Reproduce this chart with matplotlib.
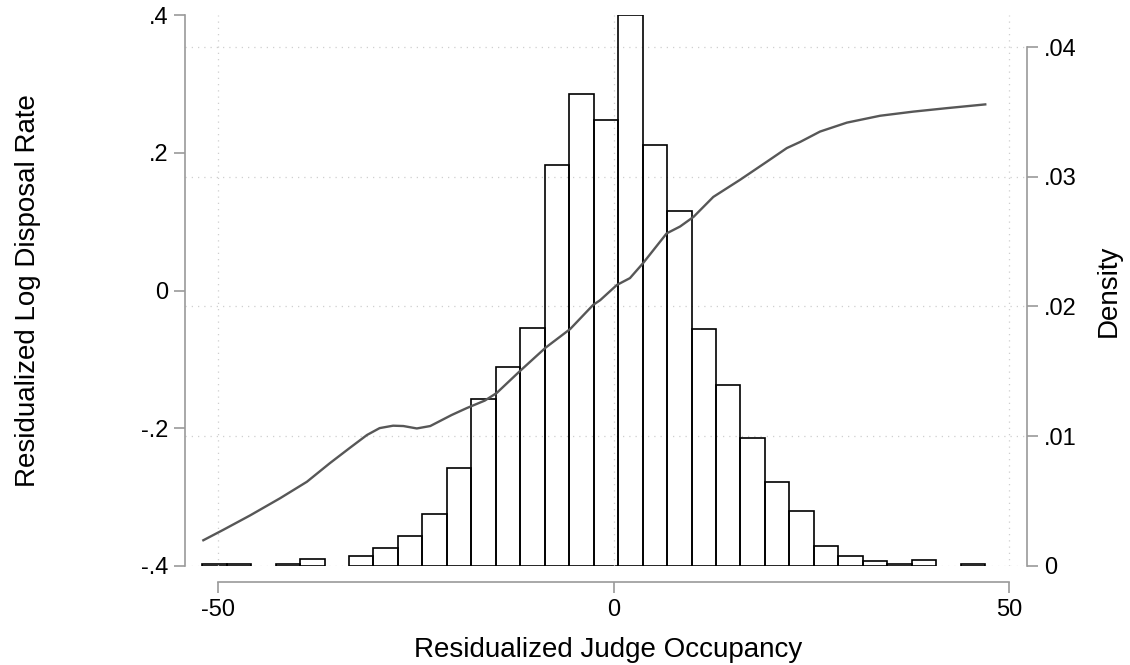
import matplotlib
matplotlib.use("Agg")
import matplotlib.pyplot as plt
import numpy as np

plt.rcParams['font.family'] = ['Liberation Sans', 'DejaVu Sans']
plt.rcParams['axes.unicode_minus'] = False

# histogram of residualized judge occupancy (density, right axis)
bin_start = -52.05
bin_width = 3.095
density = [0.00013, 0.00013, 0.0, 0.00013, 0.00052, 0.0, 0.00077, 0.00137,
           0.00226, 0.00396, 0.00754, 0.01284, 0.01529, 0.0183, 0.03094, 0.03639,
           0.03434, 0.04245, 0.03243, 0.02734, 0.01828, 0.01395, 0.00983, 0.00643,
           0.00419, 0.00152, 0.00077, 0.00039, 0.00013, 0.00041, 0.0, 0.00013]

# local polynomial fit (left axis)
fit_x = [-51.9, -49.4, -46.0, -42.2, -38.8, -35.9, -33.4, -31.2, -29.6, -27.9,
         -26.6, -24.9, -23.2, -20.5, -18.6, -16.3, -14.8, -11.85, -8.6, -5.5,
         -2.6, -1.7, 0.4, 2.06, 3.7, 6.7, 8.4, 10.1, 12.6, 16.0,
         19.35, 21.9, 23.6, 26.1, 29.5, 33.7, 37.9, 42.1, 47.0]
fit_y = [-0.363, -0.348, -0.327, -0.302, -0.278, -0.251, -0.229, -0.210, -0.200, -0.1965,
         -0.197, -0.2005, -0.197, -0.181, -0.171, -0.160, -0.149, -0.117, -0.083, -0.056,
         -0.021, -0.014, 0.008, 0.018, 0.0395, 0.083, 0.093, 0.107, 0.136, 0.161,
         0.187, 0.207, 0.216, 0.231, 0.244, 0.254, 0.260, 0.265, 0.2705]

left_ticks = [-0.4, -0.2, 0, 0.2, 0.4]
left_labels = ['-.4', '-.2', '0', '.2', '.4']
right_ticks = [0, 0.01, 0.02, 0.03, 0.04]
right_labels = ['0', '.01', '.02', '.03', '.04']
x_ticks = [-50, 0, 50]

axis_gray = '#9a9a9a'
grid_gray = '#cfcfcf'

fig = plt.figure(figsize=(11.3, 6.65), dpi=100)
ax = fig.add_axes([185 / 1130, 1 - 565.7 / 665, 842 / 1130, 550.4 / 665])
ax2 = ax.twinx()

# bars on the density axis
dens = np.array(density)
lefts = bin_start + bin_width * np.arange(len(dens))
keep = dens > 0
ax2.bar(lefts[keep], dens[keep], width=bin_width, align='edge', bottom=0,
        fill=False, edgecolor='black', linewidth=1.2, zorder=3)
ax2.set_ylim(0, 0.04245)
ax2.set_yticks(right_ticks)
ax2.set_yticklabels(right_labels)
ax2.grid(axis='y', color=grid_gray, linestyle=(0, (1, 4)), linewidth=0.9)
ax2.set_axisbelow(True)
ax2.set_ylabel('Density', fontsize=20)
ax2.yaxis.set_label_coords(1.082, 0.5)

# fitted line on the left axis, drawn above the bars
ax.set_zorder(ax2.get_zorder() + 1)
ax.patch.set_visible(False)
ax.plot(fit_x, fit_y, color='#575757', linewidth=1.7)
ax.set_xlim(-54.22, 52.28)
ax.set_ylim(-0.4, 0.4)
ax.set_yticks(left_ticks)
ax.set_yticklabels(left_labels)
ax.set_xticks(x_ticks)
ax.set_xticklabels(['-50', '0', '50'])
ax.grid(axis='x', color=grid_gray, linestyle=(0, (1, 4)), linewidth=0.9)
ax.set_xlabel('Residualized Judge Occupancy', fontsize=20)
ax.xaxis.set_label_coords(0.503, -0.130)
ax.set_ylabel('Residualized Log Disposal Rate', fontsize=20)
ax.yaxis.set_label_coords(-0.1705, 0.5)

for s in ['top', 'right']:
    ax.spines[s].set_visible(False)
for s in ['top', 'left', 'bottom']:
    ax2.spines[s].set_visible(False)

ax.spines['left'].set_bounds(-0.4, 0.4)
ax.spines['bottom'].set_bounds(-50, 50)
ax.spines['bottom'].set_position(('outward', 11.7))
ax2.spines['right'].set_bounds(0, 0.04)
for sp in [ax.spines['left'], ax.spines['bottom'], ax2.spines['right']]:
    sp.set_color(axis_gray)
    sp.set_linewidth(1.2)

ax.tick_params(axis='both', color=axis_gray, length=8, width=1.2,
               labelsize=17, labelcolor='black', pad=4)
ax2.tick_params(axis='y', color=axis_gray, length=8, width=1.2,
                labelsize=17, labelcolor='black', pad=4)

fig.savefig('out.png', dpi=100)
